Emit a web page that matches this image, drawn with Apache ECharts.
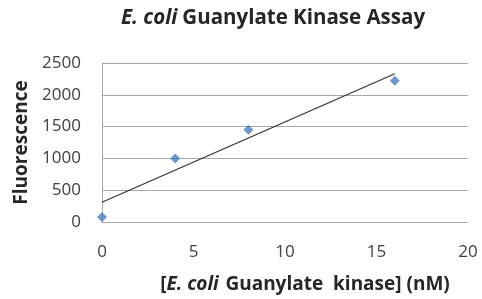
<!DOCTYPE html>
<html><head><meta charset="utf-8">
<script src="https://cdn.jsdelivr.net/npm/echarts@6/dist/echarts.min.js"></script>
<style>html,body{margin:0;padding:0;background:#fff}#c{width:482px;height:299px}</style>
</head><body><div id="c"></div>
<script>
const concentrations = [0, 4, 8, 16];
const fluorescence = [80, 1000, 1450, 2220];
const trendX = [0, 16];
const trendY = [310, 2330];
const xTicks = [0, 5, 10, 15, 20];
const yTicks = [0, 500, 1000, 1500, 2000, 2500];

const FONT = '"Open Sans", "Liberation Sans", sans-serif';
const TXT = '#262626';
const chart = echarts.init(document.getElementById('c'));
chart.setOption({
  backgroundColor: '#fff',
  animation: false,
  title: {
    text: '{i|E. coli} {b|Guanylate Kinase Assay}',
    left: 268, top: 3, textAlign: 'center',
    textStyle: {
      rich: {
        i: {fontFamily: FONT, fontSize: 20.5, fontWeight: 'bold', fontStyle: 'italic', color: TXT},
        b: {fontFamily: FONT, fontSize: 20.5, fontWeight: 'bold', color: TXT}
      }
    }
  },
  grid: {left: 102, right: 14, top: 63, bottom: 74.5, containLabel: false},
  xAxis: {
    type: 'value', min: xTicks[0], max: xTicks[xTicks.length-1], interval: 5,
    axisLine: {show: false}, axisTick: {show: false}, splitLine: {show: false},
    axisLabel: {fontFamily: FONT, fontSize: 17, color: '#404040', margin: 22},
    name: '{o|[}{i|E. coli}  {b|Guanylate  kinase] (nM)}',
    nameLocation: 'middle', nameGap: 53,
    nameTextStyle: {
      padding: [0, 0, 0, 40],
      rich: {
        o: {fontFamily: FONT, fontSize: 19, fontWeight: 'bold', color: TXT},
        i: {fontFamily: FONT, fontSize: 19, fontWeight: 'bold', fontStyle: 'italic', color: TXT},
        b: {fontFamily: FONT, fontSize: 19, fontWeight: 'bold', color: TXT}
      }
    }
  },
  yAxis: {
    type: 'value', min: yTicks[0], max: yTicks[yTicks.length-1], interval: 500,
    axisLine: {show: true, lineStyle: {color: '#a6a6a6', width: 1}},
    axisTick: {show: false},
    splitLine: {show: true, lineStyle: {color: '#a6a6a6', width: 1}},
    axisLabel: {fontFamily: FONT, fontSize: 17, color: '#404040', margin: 21, formatter: v => String(v)},
    name: 'Fluorescence', nameLocation: 'middle', nameGap: 71, nameRotate: 90,
    nameTextStyle: {fontFamily: FONT, fontSize: 19, fontWeight: 'bold', color: TXT}
  },
  series: [
    {
      type: 'scatter', symbol: 'diamond', symbolSize: 10,
      itemStyle: {color: '#4a7ebb'},
      data: concentrations.map((x, i) => [x, fluorescence[i]]),
      z: 3
    },
    {
      type: 'line', symbol: 'none', silent: true,
      lineStyle: {color: '#333', width: 1.2},
      data: trendX.map((x, i) => [x, trendY[i]]),
      z: 2
    }
  ]
});
</script></body></html>
